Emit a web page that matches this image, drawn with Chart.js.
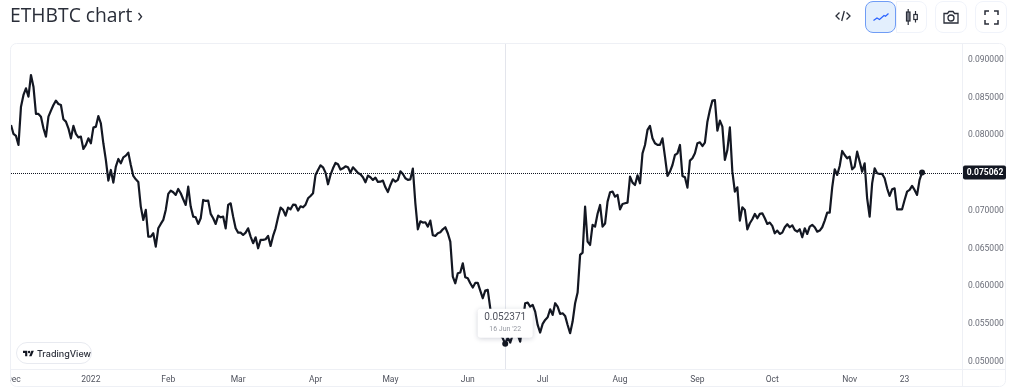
<!DOCTYPE html>
<html><head><meta charset="utf-8">
<style>
html,body{margin:0;padding:0;background:#fff;width:1024px;height:390px;overflow:hidden}
#page{position:absolute;left:0;top:0;width:1024px;height:390px;filter:blur(0.3px)}
#c{position:absolute;left:0;top:0}
#title{position:absolute;left:10px;top:1px;font:19.300px/28px "Open Sans",sans-serif;color:#2a2e39;white-space:nowrap}
.btn{position:absolute;top:1px;height:30px;border:1px solid #f0f3fa;box-sizing:content-box;background:#fff;display:flex;align-items:center;justify-content:center}
#badge{position:absolute;left:16px;top:342px;width:74px;height:20px;border:1px solid #e8eaf0;border-radius:11px;background:#fff;display:flex;align-items:center;font:500 9px Inter,sans-serif;color:#2a2e39}
svg{display:block}
</style></head><body><div id="page">
<canvas id="c" width="1024" height="390"></canvas>
<div id="title">ETHBTC chart ›</div>
<svg style="position:absolute;left:835px;top:9px" width="16" height="14" viewBox="0 0 16 14" fill="none" stroke="#2a2e39" stroke-width="1.300"><path d="M4.500 3.500 1 7l3.500 3.500M11.500 3.500 15 7l-3.500 3.500M9.300 2 6.700 12"/></svg>
<div class="btn" style="left:896px;width:29px;border-radius:0 8px 8px 0"><svg width="14" height="18" viewBox="0 0 14 18" fill="none" stroke="#2a2e39" stroke-width="1.200"><rect x="1.500" y="4" width="3.500" height="9" fill="#787b86"/><path d="M3.200 1v3M3.200 13v4M10.500 3v3.500M10.500 11.500v3"/><rect x="8.800" y="6.500" width="3.500" height="5"/></svg></div>
<div class="btn" style="left:865px;width:29px;border:1.500px solid #6f9cf5;border-radius:8px;background:#e3effd"><svg width="16" height="10" viewBox="0 0 16 10" fill="none" stroke="#2962ff" stroke-width="1.200"><path d="M0.500 8.500 4 6l2.500 1.500L11 3.500l1.500 .8L15.500 1.500"/></svg></div>
<div class="btn" style="left:935px;width:30px;border-radius:8px"><svg width="16" height="14" viewBox="0 0 16 14" fill="none" stroke="#2a2e39" stroke-width="1.300"><path d="M1 3.500h3.500L6 1.500h4l1.500 2H15V13H1z"/><circle cx="8" cy="8" r="3"/></svg></div>
<div class="btn" style="left:975px;width:30px;border-radius:8px"><svg width="15" height="15" viewBox="0 0 15 15" fill="none" stroke="#2a2e39" stroke-width="1.500"><path d="M1 5V1h4M10 1h4v4M14 10v4h-4M5 14H1v-4"/></svg></div>
<div id="badge"><svg style="margin-left:6px;margin-right:3px" width="16" height="10" viewBox="0 0 36 22" fill="#131722"><path d="M14 22H7V11H0V4h14v18zM28 22h-8l7.500-18h8L28 22z"/><circle cx="20" cy="8" r="4"/></svg>TradingView</div>
</div>
<script src="https://cdn.jsdelivr.net/npm/chart.js@4"></script>
<script>
const firstDay = -32; // days relative to 1 Jan 2022 (30 Nov 2021)
const closes = [
0.08138,0.08019,0.07992,0.07873,0.08381,0.08536,0.08624,0.08514,0.08801,0.08646,
0.08284,0.08284,0.08248,0.08094,0.07983,0.08248,0.08328,0.08403,0.08461,0.08416,
0.08403,0.08213,0.08182,0.08094,0.07961,0.08125,0.08019,0.07974,0.07983,0.0782,
0.07873,0.07961,0.07895,0.08103,0.08116,0.08257,0.0816,0.07895,0.07674,0.074,
0.07541,0.07373,0.07585,0.07687,0.0763,0.07709,0.07731,0.07771,0.07607,0.07462,
0.07417,0.07382,0.07055,0.06878,0.07011,0.06657,0.06657,0.06701,0.06524,0.06767,
0.06825,0.06878,0.07011,0.07223,0.07267,0.07245,0.0721,0.07289,0.07232,0.07152,
0.07077,0.0732,0.07055,0.06922,0.06913,0.06825,0.069,0.07143,0.0713,0.07134,
0.06958,0.069,0.06825,0.06935,0.06913,0.06922,0.06767,0.07077,0.07099,0.06922,
0.06767,0.0671,0.0671,0.06679,0.0671,0.06767,0.06657,0.06569,0.06648,0.06502,
0.06613,0.06613,0.06622,0.06666,0.06533,0.06666,0.06767,0.06913,0.07042,0.07011,
0.06935,0.07042,0.07019,0.07081,0.07077,0.07002,0.07059,0.07046,0.07081,0.07165,
0.07196,0.07232,0.07475,0.07541,0.07603,0.07576,0.07506,0.07351,0.07475,0.07563,
0.07634,0.07616,0.07546,0.07563,0.0759,0.07576,0.07506,0.07576,0.07541,0.07501,
0.07484,0.07444,0.07378,0.07466,0.07444,0.07409,0.07439,0.07382,0.07386,0.074,
0.07311,0.07249,0.07342,0.07417,0.07386,0.07409,0.07523,0.07488,0.07431,0.07409,
0.07417,0.07559,0.07099,0.06754,0.0686,0.06843,0.06847,0.0679,0.06869,0.06675,
0.06666,0.06701,0.06714,0.06754,0.06781,0.06701,0.06591,0.06126,0.06038,0.06171,
0.0618,0.06303,0.06118,0.06104,0.06038,0.05981,0.06042,0.06042,0.05941,0.05839,
0.05941,0.0595,0.05707,
0.05419,0.05375,0.05397,0.05353,0.05309,0.052371,0.05317,0.05251,0.05353,0.05375,
0.05353,0.05264,0.05508,0.05773,0.05782,0.05729,0.05751,0.05662,0.05485,0.05384,
0.05499,0.05552,0.05587,0.05693,0.05618,0.05773,0.05729,0.05631,0.0564,0.05605,
0.05485,0.05375,0.0553,0.05773,0.05914,0.06414,0.06445,0.07055,0.06591,0.06546,
0.06812,0.0679,0.0696,0.07077,0.0679,0.0683,0.07121,0.07245,0.07254,0.07187,
0.0721,
0.07019,0.0709,0.07099,0.07108,0.07453,0.07373,0.07342,0.0747,0.07364,0.07762,
0.07873,0.08072,0.08125,0.07961,0.07895,0.07873,0.07873,0.07961,0.07718,0.07462,
0.07519,0.07607,0.0774,0.07762,0.07873,0.07462,0.07444,0.07307,0.07665,0.07696,
0.07762,0.07895,0.07908,0.07859,0.07904,0.08182,0.08337,0.08461,0.08469,0.08063,
0.08195,0.08116,0.07674,0.07806,0.08107,0.07519,0.07254,0.07311,0.06869,0.07046,
0.07011,0.06754,0.06834,0.06887,0.06958,0.069,0.06958,0.06966,0.069,0.06825,
0.06843,0.068,0.06701,0.06737,0.06692,0.0671,0.06781,0.06821,0.06781,0.06807,
0.06745,0.06723,0.06754,0.06648,0.06767,0.06692,0.0679,0.06812,0.06781,0.06723,0.06737,
0.06781,0.06869,0.06975,0.06975,0.07311,0.0755,0.07475,0.07594,0.07793,0.0774,
0.07696,0.07718,0.0755,0.07585,0.07784,0.07652,0.07519,0.0763,0.07165,0.06922,
0.07364,0.07563,0.07497,0.07488,0.07488,0.07431,0.07298,0.07196,0.07285,0.07298,
0.07019,0.07019,0.07019,0.07143,0.07254,0.07276,0.07329,0.07276,0.0721,0.07409,
0.075062];
const tickDays = [-31,0,31,59,90,120,151,181,212,243,273,304,326];
const tickLabels = ["Dec","2022","Feb","Mar","Apr","May","Jun","Jul","Aug","Sep","Oct","Nov","23"];
const priceTicks = [0.05,0.055,0.06,0.065,0.07,0.075,0.08,0.085,0.09];
const focusIndex = 198;
const focusDateLabel = "16 Jun '22";
const lastPrice = closes[closes.length-1];

const points = closes.map((v,i)=>({x:firstDay+i,y:v}));
const FONT = 'Roboto, sans-serif';

const overlay = {
  id:'overlay',
  beforeDatasetsDraw(ch){
    const {ctx,chartArea:a,scales:{x,y}} = ch;
    ctx.save();
    ctx.strokeStyle='#e3e5ec';ctx.lineWidth=1;
    const cx=Math.round(x.getPixelForValue(firstDay+focusIndex))+0.5;
    ctx.beginPath();ctx.moveTo(cx,a.top);ctx.lineTo(cx,a.bottom);ctx.stroke();
    const py=Math.round(y.getPixelForValue(lastPrice))+0.5;
    ctx.strokeStyle='#131722';ctx.setLineDash([1,1]);
    ctx.beginPath();ctx.moveTo(a.left,py);ctx.lineTo(a.right,py);ctx.stroke();
    ctx.restore();
  },
  afterDraw(ch){
    const {ctx,chartArea:a,scales:{x,y}} = ch;
    ctx.save();
    // clipped first tick label
    ctx.fillStyle='#fff';ctx.fillRect(0,a.bottom+1,a.left-1,20);
    // frame
    ctx.strokeStyle='#eef0f5';ctx.lineWidth=1;
    ctx.beginPath();ctx.roundRect(10.5,43.5,995,343,6);ctx.stroke();
    ctx.beginPath();
    ctx.moveTo(a.right+0.5,43);ctx.lineTo(a.right+0.5,387);
    ctx.moveTo(10,a.bottom+0.5);ctx.lineTo(1006,a.bottom+0.5);ctx.stroke();
    // last price tag
    const py=y.getPixelForValue(lastPrice);
    ctx.fillStyle='#131722';
    ctx.beginPath();ctx.roundRect(a.right+1,py-7,43,14,2);ctx.fill();
    ctx.fillStyle='#fff';ctx.font='bold 8.5px '+FONT;ctx.textAlign='center';ctx.textBaseline='middle';
    ctx.fillText(lastPrice.toFixed(6),a.right+23,py+0.5);
    // focus tooltip
    const fx=x.getPixelForValue(firstDay+focusIndex), fy=y.getPixelForValue(closes[focusIndex]);
    ctx.save();
    ctx.shadowColor='rgba(40,50,80,0.22)';ctx.shadowBlur=5;ctx.shadowOffsetY=1;
    ctx.fillStyle='#fff';
    ctx.beginPath();ctx.roundRect(fx-27.5,fy-35,55,29,3);ctx.fill();
    ctx.restore();
    ctx.fillStyle='#50535e';ctx.font='10px '+FONT;
    ctx.fillText(closes[focusIndex].toFixed(6),fx,fy-26);
    ctx.fillStyle='#9598a1';ctx.font='7px '+FONT;
    ctx.fillText(focusDateLabel,fx,fy-14);
    ctx.restore();
  }
};

new Chart(document.getElementById('c'),{
  type:'line',
  data:{datasets:[{
    data:points,borderColor:'#131722',borderWidth:2.2,tension:0,
    borderJoinStyle:'round',
    pointRadius:c=>(c.dataIndex===focusIndex||c.dataIndex===closes.length-1)?3:0,
    pointBackgroundColor:'#131722',pointBorderWidth:0,pointHoverRadius:0
  }]},
  plugins:[overlay],
  options:{
    responsive:false,animation:false,devicePixelRatio:1,
    layout:{padding:{left:11,right:18,top:43,bottom:3}},
    events:[],
    plugins:{legend:{display:false},tooltip:{enabled:false}},
    scales:{
      x:{type:'linear',min:firstDay,max:349,
        grid:{display:false,drawTicks:false},border:{display:false},
        afterBuildTicks(s){s.ticks=tickDays.map(v=>({value:v}));},
        afterFit(s){s.height=18;},
        ticks:{autoSkip:false,maxRotation:0,padding:6,color:'#50535e',font:{family:FONT,size:8.5},
          callback(v){return tickLabels[tickDays.indexOf(v)];}}
      },
      y:{position:'right',min:0.049005,max:0.092255,
        grid:{display:false,drawTicks:false},border:{display:false},
        afterBuildTicks(s){s.ticks=priceTicks.map(v=>({value:v}));},
        afterFit(s){s.width=44;},
        ticks:{padding:6,color:'#6a6d78',font:{family:FONT,size:8.5},
          callback(v){return v.toFixed(6);}}
      }
    }
  }
});
</script>
</body></html>
